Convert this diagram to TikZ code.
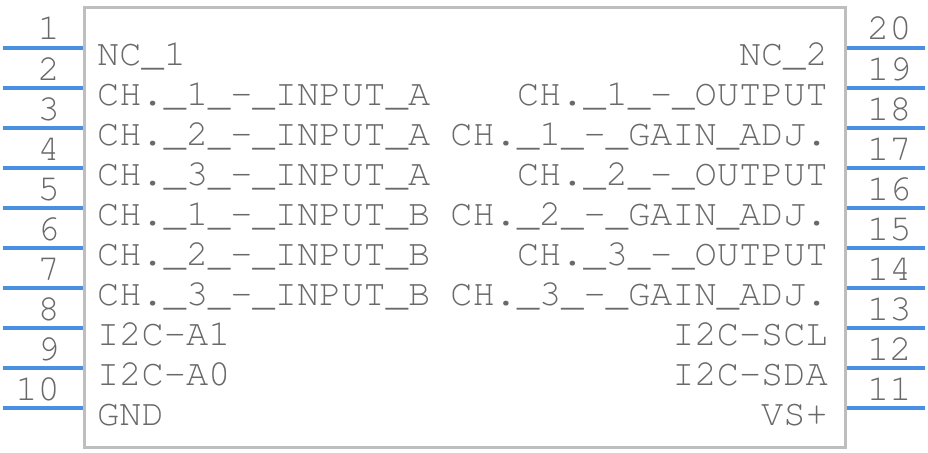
\documentclass[tikz,border=0pt]{standalone}
\usepackage[T1]{fontenc}
\usepackage{courier}
\usetikzlibrary{positioning,calc}
\definecolor{pinblue}{RGB}{74,144,226}
\definecolor{bodygray}{RGB}{190,190,190}
\definecolor{labelgray}{RGB}{105,105,105}
\tikzset{
  chipbody/.style={draw=bodygray,line width=3pt,inner sep=0pt,minimum width=761pt,minimum height=439pt},
  pinline/.style={draw=pinblue,line width=4pt},
  pintext/.style={text=labelgray,inner sep=0pt,font=\ttfamily\fontsize{37}{37}\selectfont},
}

\begin{document}
\begin{tikzpicture}[x=1pt,y=-1pt]
\useasboundingbox (0,0) rectangle (928,452);
% Body
\node[chipbody] (chip) at (464.5,227.5) {};

% Pins 1-10 (left)
\coordinate (p1) at (3,48);
\coordinate (p2) at (3,88);
\coordinate (p3) at (3,128);
\coordinate (p4) at (3,168);
\coordinate (p5) at (3,208);
\coordinate (p6) at (3,248);
\coordinate (p7) at (3,288);
\coordinate (p8) at (3,328);
\coordinate (p9) at (3,368);
\coordinate (p10) at (3,408);
\draw[pinline] (p1) -- (p1 -| chip.west);
\draw[pinline] (p2) -- (p2 -| chip.west);
\draw[pinline] (p3) -- (p3 -| chip.west);
\draw[pinline] (p4) -- (p4 -| chip.west);
\draw[pinline] (p5) -- (p5 -| chip.west);
\draw[pinline] (p6) -- (p6 -| chip.west);
\draw[pinline] (p7) -- (p7 -| chip.west);
\draw[pinline] (p8) -- (p8 -| chip.west);
\draw[pinline] (p9) -- (p9 -| chip.west);
\draw[pinline] (p10) -- (p10 -| chip.west);

% Pins 11-20 (right)
\coordinate (p11) at (925,408);
\coordinate (p12) at (925,368);
\coordinate (p13) at (925,328);
\coordinate (p14) at (925,288);
\coordinate (p15) at (925,248);
\coordinate (p16) at (925,208);
\coordinate (p17) at (925,168);
\coordinate (p18) at (925,128);
\coordinate (p19) at (925,88);
\coordinate (p20) at (925,48);
\draw[pinline] (p11) -- (p11 -| chip.east);
\draw[pinline] (p12) -- (p12 -| chip.east);
\draw[pinline] (p13) -- (p13 -| chip.east);
\draw[pinline] (p14) -- (p14 -| chip.east);
\draw[pinline] (p15) -- (p15 -| chip.east);
\draw[pinline] (p16) -- (p16 -| chip.east);
\draw[pinline] (p17) -- (p17 -| chip.east);
\draw[pinline] (p18) -- (p18 -| chip.east);
\draw[pinline] (p19) -- (p19 -| chip.east);
\draw[pinline] (p20) -- (p20 -| chip.east);

% Pin numbers
\node[pintext,anchor=base east] (n1) at (60,40) {1};
\node[pintext,anchor=base east] (n2) at (60,80) {2};
\node[pintext,anchor=base east] (n3) at (60,120) {3};
\node[pintext,anchor=base east] (n4) at (60,160) {4};
\node[pintext,anchor=base east] (n5) at (60,200) {5};
\node[pintext,anchor=base east] (n6) at (60,240) {6};
\node[pintext,anchor=base east] (n7) at (60,280) {7};
\node[pintext,anchor=base east] (n8) at (60,320) {8};
\node[pintext,anchor=base east] (n9) at (60,360) {9};
\node[pintext,anchor=base east] (n10) at (60,400) {10};
\node[pintext,anchor=base west] (n11) at (867,400) {11};
\node[pintext,anchor=base west] (n12) at (867,360) {12};
\node[pintext,anchor=base west] (n13) at (867,320) {13};
\node[pintext,anchor=base west] (n14) at (867,280) {14};
\node[pintext,anchor=base west] (n15) at (867,240) {15};
\node[pintext,anchor=base west] (n16) at (867,200) {16};
\node[pintext,anchor=base west] (n17) at (867,160) {17};
\node[pintext,anchor=base west] (n18) at (867,120) {18};
\node[pintext,anchor=base west] (n19) at (867,80) {19};
\node[pintext,anchor=base west] (n20) at (867,40) {20};

% Left labels
\node[pintext,anchor=base west] (l1) at (97,65) {NC\_1};
\node[pintext,anchor=base west] (l2) at (97,105) {CH.\_1\_-\_INPUT\_A};
\node[pintext,anchor=base west] (l3) at (97,145) {CH.\_2\_-\_INPUT\_A};
\node[pintext,anchor=base west] (l4) at (97,185) {CH.\_3\_-\_INPUT\_A};
\node[pintext,anchor=base west] (l5) at (97,225) {CH.\_1\_-\_INPUT\_B};
\node[pintext,anchor=base west] (l6) at (97,265) {CH.\_2\_-\_INPUT\_B};
\node[pintext,anchor=base west] (l7) at (97,305) {CH.\_3\_-\_INPUT\_B};
\node[pintext,anchor=base west] (l8) at (97,345) {I2C-A1};
\node[pintext,anchor=base west] (l9) at (97,385) {I2C-A0};
\node[pintext,anchor=base west] (l10) at (97,425) {GND};

% Right labels
\node[pintext,anchor=base east] (l11) at (828,425) {VS+};
\node[pintext,anchor=base east] (l12) at (828,385) {I2C-SDA};
\node[pintext,anchor=base east] (l13) at (828,345) {I2C-SCL};
\node[pintext,anchor=base east] (l14) at (828,305) {CH.\_3\_-\_GAIN\_ADJ.};
\node[pintext,anchor=base east] (l15) at (828,265) {CH.\_3\_-\_OUTPUT};
\node[pintext,anchor=base east] (l16) at (828,225) {CH.\_2\_-\_GAIN\_ADJ.};
\node[pintext,anchor=base east] (l17) at (828,185) {CH.\_2\_-\_OUTPUT};
\node[pintext,anchor=base east] (l18) at (828,145) {CH.\_1\_-\_GAIN\_ADJ.};
\node[pintext,anchor=base east] (l19) at (828,105) {CH.\_1\_-\_OUTPUT};
\node[pintext,anchor=base east] (l20) at (828,65) {NC\_2};
\end{tikzpicture}
\end{document}
